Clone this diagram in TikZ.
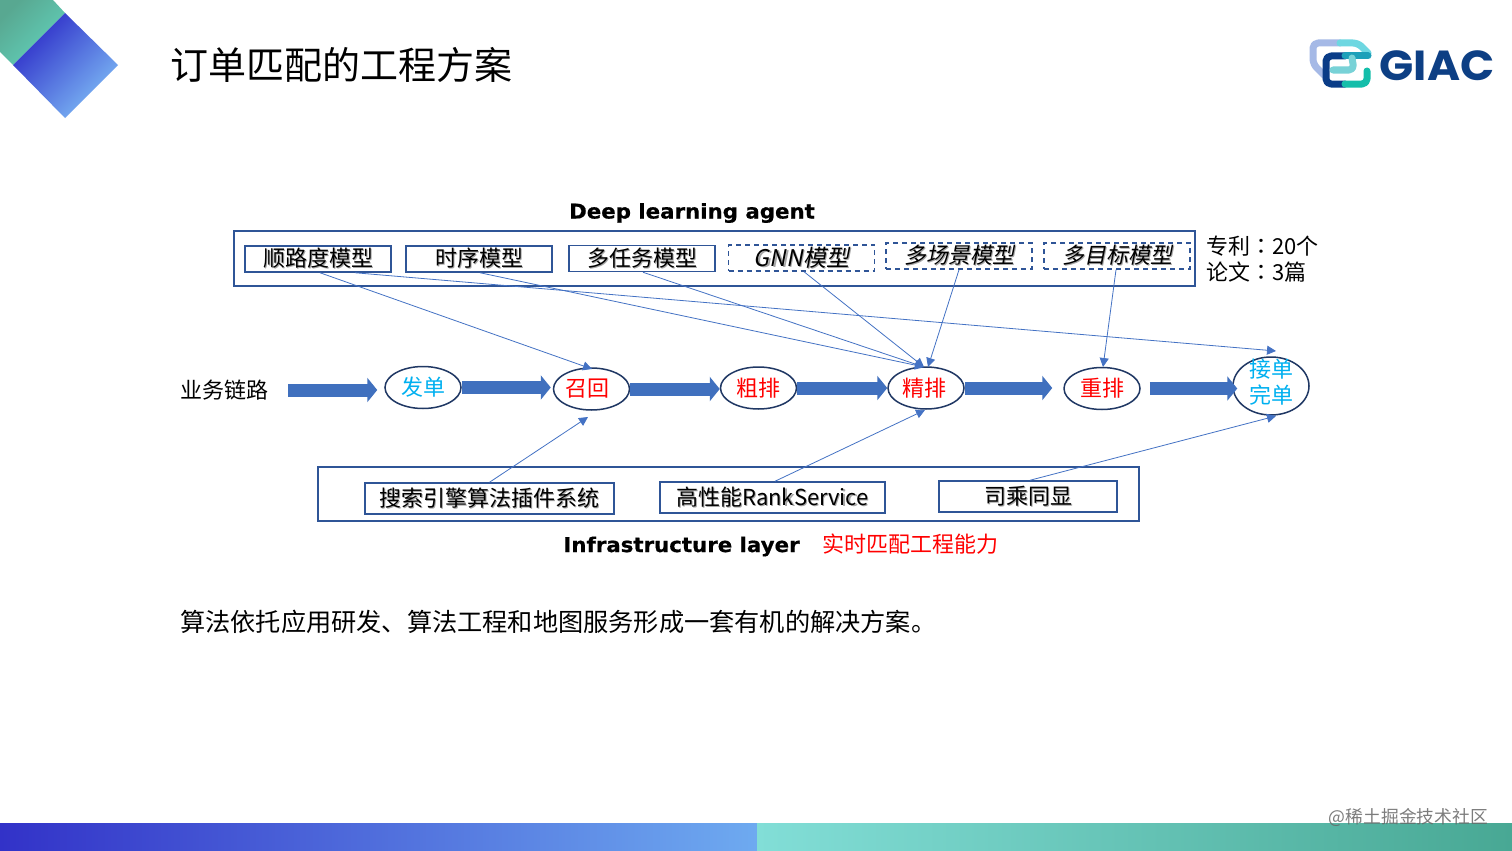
\documentclass[tikz,border=0pt]{standalone}
\usepackage{fontspec}
\usetikzlibrary{arrows.meta,shapes.geometric,calc}
\setmainfont{Noto Sans CJK SC}
\newfontfamily\slantcjk[FakeSlant=0.2]{Noto Sans CJK SC}
\newfontfamily\colonfont{Noto Sans CJK TC}
\newfontfamily\headfont[FakeBold=0.6,FakeStretch=1.05]{DejaVu Sans Bold}
\newfontfamily\logofont{Poppins}
\definecolor{boxline}{HTML}{2F5597}
\definecolor{ellline}{HTML}{203864}
\definecolor{flowblue}{HTML}{4070BE}
\definecolor{thinblue}{HTML}{4472C4}
\definecolor{cyantext}{HTML}{00B0F0}
\definecolor{tealdark}{RGB}{88,168,145}
\definecolor{teallight}{RGB}{98,210,188}
\definecolor{bluedark}{RGB}{45,45,200}
\definecolor{bluelight}{RGB}{125,185,245}
\newcommand{\shad}[1]{\makebox[0pt][l]{\hspace{1.2pt}\raisebox{-1.2pt}{\color{black!35}#1}}#1}
\tikzset{
  lbl/.style={inner sep=0pt,font=\fontsize{22}{26}\selectfont,text=black,align=center},
  outerbox/.style={draw=boxline,line width=1.5pt,inner sep=0pt},
  modelbox/.style={draw=boxline,line width=1.5pt,inner sep=0pt,minimum width=146pt,minimum height=26pt,font=\fontsize{22}{26}\selectfont},
  dashbox/.style={modelbox,dashed,dash pattern=on 5pt off 4pt,font=\fontsize{22}{26}\selectfont\slantcjk},
  infra/.style={draw=boxline,line width=1.5pt,inner sep=0pt,minimum height=31pt,font=\fontsize{22}{26}\selectfont},
  stage/.style={ellipse,draw=ellline,line width=1.5pt,inner sep=0pt,minimum width=76pt,minimum height=42pt,fill=white,font=\fontsize{22}{26}\selectfont},
  flow/.style={draw=flowblue,line width=13pt,-{Triangle[length=10pt,width=24pt,fill=flowblue]}},
  thin/.style={draw=thinblue,line width=0.8pt,-{Triangle[length=9pt,width=9pt,fill=thinblue]}},
  head/.style={inner sep=0pt,font=\headfont\fontsize{20.3}{24}\selectfont},
}
\begin{document}
\begin{tikzpicture}[x=1pt,y=-1pt]
\useasboundingbox (0,0) rectangle (1512,851);
\fill[white] (0,0) rectangle (1512,851);
% corner decoration
\path[left color=tealdark,right color=teallight,shading angle=45,draw=none]
  (0,0) -- (53,0) -- (65,13) -- (13,65) -- (0,52) -- cycle;
\path[left color=bluedark,right color=bluelight,shading angle=45,draw=none]
  (65,13) -- (118,65) -- (65,118) -- (13,65) -- cycle;
% bottom band
\path[left color={rgb,255:red,50;green,50;blue,200},right color={rgb,255:red,110;green,170;blue,240}] (0,823) rectangle (757,851);
\path[left color={rgb,255:red,130;green,222;blue,215},right color={rgb,255:red,72;green,168;blue,148}] (757,823) rectangle (1512,851);
% logo
\begin{scope}[line width=7pt,line join=round,line cap=round,rounded corners=5pt]
\draw[color={rgb,255:red,165;green,185;blue,230}] (1325,76) -- (1313,64) -- (1313,43) -- (1340,43);
\draw[color={rgb,255:red,110;green,215;blue,225}] (1340,43) -- (1358,43) -- (1368,53);
\draw[color={rgb,255:red,10;green,60;blue,135}] (1345,56) -- (1326,56) -- (1326,84) -- (1345,84);
\draw[color={rgb,255:red,30;green,160;blue,185}] (1345,56) -- (1368,56);
\draw[color={rgb,255:red,120;green,210;blue,215}] (1333,70) -- (1354,70) -- (1352,58);
\draw[color={rgb,255:red,20;green,190;blue,170}] (1345,84) -- (1367,84) -- (1367,71);
\end{scope}
\node[inner sep=0pt,anchor=center,xscale=1.07,text={rgb,255:red,13;green,63;blue,132},font=\logofont\bfseries\fontsize{42}{42}\selectfont] (logotext) at (1437,66) {GIAC};
% title
\node[inner sep=0pt,anchor=west,font=\fontsize{38}{44}\selectfont] (title) at (170,65) {订单匹配的工程方案};
% top group
\node[head] (headtop) at (692,213) {Deep learning agent};
\node[outerbox,minimum width=961pt,minimum height=55pt] (topbox) at (714.5,258.5) {};
\node[modelbox] (m1) at (318,259) {\shad{顺路度模型}};
\node[modelbox] (m2) at (479,259) {\shad{时序模型}};
\node[modelbox] (m3) at (642,258.5) {\shad{多任务模型}};
\node[dashbox,font=\fontsize{23}{26}\selectfont\slantcjk] (m4) at (801.5,258) {\shad{GNN模型}};
\node[dashbox] (m5) at (959,256) {\shad{多场景模型}};
\node[dashbox] (m6) at (1117,256) {\shad{多目标模型}};
\node[lbl,anchor=west] (patent) at (1206,246) {专利{\colonfont：}20个};
\node[lbl,anchor=west] (paper) at (1206,272) {论文{\colonfont：}3篇};
% stages
\node[lbl] (lane) at (224,390) {业务链路};
\coordinate (lanestart) at (288,390);
\node[stage,text=cyantext] (s1) at (423,387.5) {发单};
\node[stage,text=red] (s2) at (591.5,389) {\hspace{-8pt}召回};
\node[stage,text=red] (s3) at (758.5,388) {粗排};
\node[stage,text=red] (s4) at (926,388) {\hspace{-4pt}精排};
\node[stage,text=red] (s5) at (1102,388.5) {\raisebox{3pt}{重排}};
\node[stage,minimum height=58pt] (s6) at (1271,386) {};
\node[lbl,text=cyantext] (s6text) at (1271,382) {接单\\完单};
% flow arrows
\draw[flow,shorten >=7pt] (lanestart) -- (s1.west |- lanestart);
\draw[flow,shorten >=2pt] (s1.east) -- (s2.west |- s1.east);
\draw[flow] (s2.east) -- (s3.west |- s2.east);
\draw[flow] (s3.east) -- (s4.west |- s3.east);
\draw[flow,shorten >=11pt] (s4.east) -- (s5.west |- s4.east);
\draw[flow,shorten <=9pt,shorten >=-5pt] (s5.east) -- (s6.west |- s5.east);
% infrastructure group
\node[outerbox,minimum width=821pt,minimum height=54pt] (botbox) at (728.5,494) {};
\node[infra,minimum width=249pt] (i1) at (489.5,498.5) {\shad{搜索引擎算法插件系统}};
\node[infra,minimum width=225pt] (i2) at (772.5,497.5) {\shad{高性能RankService}};
\node[infra,minimum width=178pt] (i3) at (1028,496.5) {\shad{司乘同显}};
\node[head] (headbot) at (681.5,546.5) {Infrastructure layer};
\node[lbl,text=red] (capability) at (910,544) {实时匹配工程能力};
\node[inner sep=0pt,anchor=west,font=\fontsize{25.2}{28}\selectfont] (summary) at (180,622) {算法依托应用研发、算法工程和地图服务形成一套有机的解决方案。};
\node[inner sep=0pt,text=black!60,opacity=0.85,font=\fontsize{17.8}{20}\selectfont] (mark) at (1408.5,817) {@稀土掘金技术社区};
% thin arrows
\coordinate (toS2top) at (592,369);
\coordinate (toS2bot) at (588,417);
\coordinate (toS4a) at (924,367);
\coordinate (toS4b) at (928,367);
\coordinate (toS4bot) at (925,410);
\coordinate (toS5) at (1103,367);
\coordinate (toS6top) at (1276,351);
\coordinate (toS6bot) at (1276,416);
\draw[thin] ([xshift=2pt]m1.south) -- (toS2top);
\draw[thin] ([xshift=37pt]m1.south) -- (toS6top);
\draw[thin] ([xshift=1pt]m2.south) -- (toS4a);
\draw[thin] ([xshift=1pt]m3.south) -- (toS4a);
\draw[thin] ([xshift=2.5pt]m4.south) -- (toS4a);
\draw[thin] (m5.south) -- (toS4b);
\draw[thin] ([xshift=-1pt]m6.south) -- (toS5);
\draw[thin] ([xshift=0pt]i1.north) -- (toS2bot);
\draw[thin] ([xshift=2.5pt]i2.north) -- (toS4bot);
\draw[thin] ([xshift=2pt]i3.north) -- (toS6bot);
\end{tikzpicture}
\end{document}
